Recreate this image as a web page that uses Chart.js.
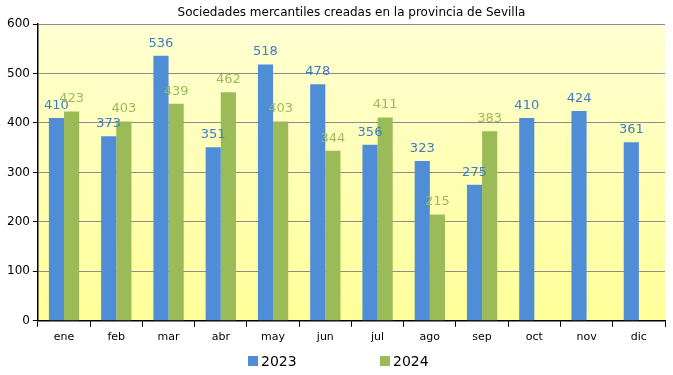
<!DOCTYPE html>
<html>
<head>
<meta charset="utf-8">
<script src="https://cdn.jsdelivr.net/npm/chart.js@4"></script>
<style>
  html, body { margin: 0; padding: 0; background: #fff; }
  #wrap { width: 673px; height: 375px; }
</style>
</head>
<body>
<div id="wrap"><canvas id="chart" width="673" height="375"></canvas></div>
<script>
// datos
const meses = ['ene', 'feb', 'mar', 'abr', 'may', 'jun', 'jul', 'ago', 'sep', 'oct', 'nov', 'dic'];
const valores2023 = [410, 373, 536, 351, 518, 478, 356, 323, 275, 410, 424, 361];
const valores2024 = [423, 403, 439, 462, 403, 344, 411, 215, 383, null, null, null];
const ticksY = [0, 100, 200, 300, 400, 500, 600];
const titulo = 'Sociedades mercantiles creadas en la provincia de Sevilla';

const FUENTE = "'DejaVu Sans', sans-serif";

// fondo degradado del área de trazado
const fondoPlugin = {
    id: 'fondo',
    beforeDraw(chart) {
        const { ctx, chartArea: a } = chart;
        const g = ctx.createLinearGradient(0, a.top, 0, a.bottom);
        g.addColorStop(0, '#ffffd2');
        g.addColorStop(1, '#ffff99');
        ctx.save();
        ctx.fillStyle = g;
        ctx.fillRect(a.left, a.top, a.right - a.left, a.bottom - a.top);
        ctx.restore();
    }
};

// etiquetas de valor encima de cada barra
const etiquetasPlugin = {
    id: 'etiquetas',
    afterDatasetsDraw(chart) {
        const { ctx } = chart;
        ctx.save();
        ctx.font = "13px " + FUENTE;
        ctx.textAlign = 'center';
        ctx.textBaseline = 'bottom';
        chart.data.datasets.forEach((ds, i) => {
            const meta = chart.getDatasetMeta(i);
            ctx.fillStyle = ds.labelColor;
            meta.data.forEach((bar, j) => {
                const v = ds.data[j];
                if (v == null) return;
                ctx.fillText(v, bar.x, bar.y - 6);
            });
        });
        ctx.restore();
    }
};

// título centrado sobre el área de trazado y leyenda inferior
const tituloLeyendaPlugin = {
    id: 'tituloLeyenda',
    afterDraw(chart) {
        const { ctx, chartArea: a } = chart;
        ctx.save();
        ctx.fillStyle = '#000';
        ctx.font = "12px " + FUENTE;
        ctx.textAlign = 'center';
        ctx.textBaseline = 'middle';
        ctx.fillText(titulo, (a.left + a.right) / 2, 13);

        ctx.font = "14px " + FUENTE;
        ctx.textAlign = 'left';
        const items = [[248, 0], [380, 1]];
        items.forEach(([x, i]) => {
            const ds = chart.data.datasets[i];
            ctx.fillStyle = ds.backgroundColor;
            ctx.fillRect(x, 356, 10, 10);
            ctx.fillStyle = '#000';
            ctx.fillText(ds.label, x + 13, 362);
        });
        ctx.restore();
    }
};

new Chart(document.getElementById('chart'), {
    type: 'bar',
    data: {
        labels: meses,
        datasets: [
            { label: '2023', data: valores2023, backgroundColor: '#4f8ed6', labelColor: '#3d7cc9' },
            { label: '2024', data: valores2024, backgroundColor: '#9bbb59', labelColor: '#9bbb59' }
        ]
    },
    options: {
        responsive: false,
        animation: false,
        devicePixelRatio: 1,
        layout: { padding: { left: 4, right: 8, top: 24, bottom: 27 } },
        datasets: { bar: { categoryPercentage: 0.58, barPercentage: 1 } },
        plugins: {
            title: { display: false },
            legend: { display: false },
            tooltip: { enabled: false }
        },
        scales: {
            x: {
                grid: { drawOnChartArea: false, drawTicks: true, tickLength: 6, color: '#000', offset: true },
                border: { color: '#000', width: 1.5 },
                ticks: { color: '#000', font: { family: FUENTE, size: 11 }, padding: 4 }
            },
            y: {
                min: 0,
                max: 600,
                afterBuildTicks(axis) { axis.ticks = ticksY.map(v => ({ value: v })); },
                grid: { color: '#8c8c8c', tickLength: 5, tickColor: '#000' },
                border: { color: '#000', width: 1.5 },
                ticks: { color: '#000', font: { family: FUENTE, size: 12 }, padding: 3 }
            }
        }
    },
    plugins: [fondoPlugin, etiquetasPlugin, tituloLeyendaPlugin]
});
</script>
</body>
</html>
